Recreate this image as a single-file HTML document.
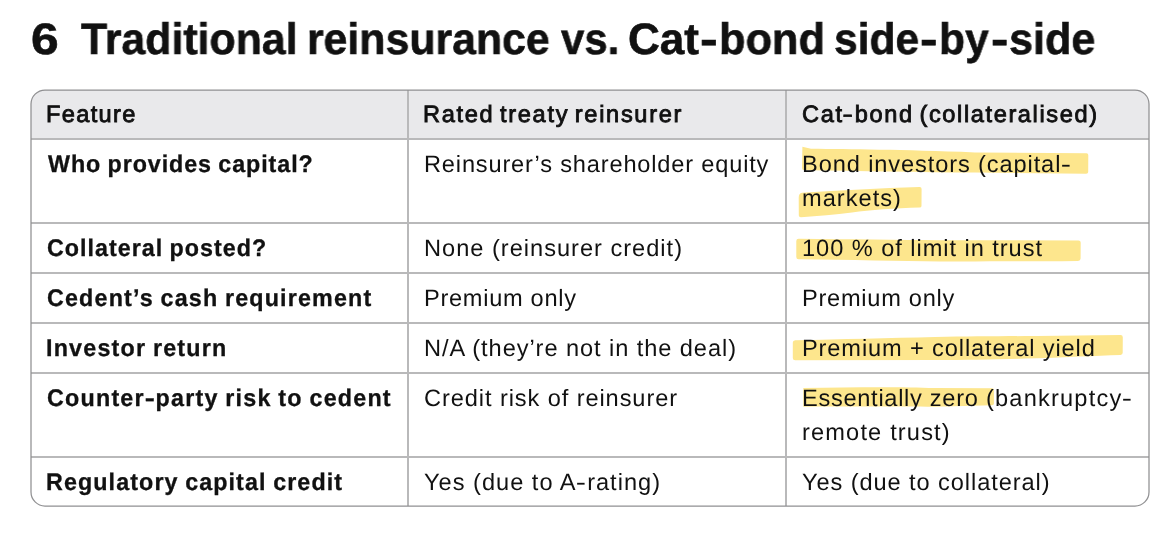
<!DOCTYPE html>
<html>
<head>
<meta charset="utf-8">
<title>Traditional reinsurance vs. Cat-bond</title>
<style>
html,body{margin:0;padding:0;background:#fff;}
body{width:1173px;height:542px;position:relative;overflow:hidden;font-family:"Liberation Sans",sans-serif;color:#111;}
.x{will-change:transform;position:absolute;white-space:pre;line-height:40px;transform-origin:0 50%;}
.hy{display:inline-block;transform:scaleX(1.3);margin:0 0.9px;}
.tt{font-size:44px;font-weight:bold;text-rendering:geometricPrecision;-webkit-text-stroke:0.6px #111;}
.b{font-size:23.3px;font-weight:bold;text-rendering:geometricPrecision;-webkit-text-stroke:0.3px #111;word-spacing:-1.0px;}
.h{font-size:23.6px;font-weight:normal;text-rendering:geometricPrecision;-webkit-text-stroke:0.85px #111;word-spacing:-2.5px;}
.n{font-size:23.6px;font-weight:normal;text-rendering:geometricPrecision;}
svg.hi{position:absolute;left:0;top:0;}
</style>
</head>
<body>
<svg class="hi" width="1173" height="542" viewBox="0 0 1173 542">
<path d="M31 139 L31 104 A14 14 0 0 1 45 90 L1135 90 A14 14 0 0 1 1149 104 L1149 139 Z" fill="#e9e9eb"/>
<g fill="#b9b9ba">
<rect x="31" y="138" width="1118" height="2"/>
<rect x="31" y="222" width="1118" height="2"/>
<rect x="31" y="272" width="1118" height="2"/>
<rect x="31" y="322" width="1118" height="2"/>
<rect x="31" y="372" width="1118" height="2"/>
<rect x="31" y="456" width="1118" height="2"/>
<rect x="407" y="90" width="2" height="416"/>
<rect x="785" y="90" width="2" height="416"/>
</g>
<rect x="31" y="90" width="1118" height="416" rx="14" ry="14" fill="none" stroke="#909092" stroke-width="1.25"/>
<defs><filter id="sf" x="-5%" y="-20%" width="110%" height="140%"><feGaussianBlur stdDeviation="0.55"/></filter></defs>
<g fill="#fde68d" filter="url(#sf)">
<path d="M802.4 146.8 L811 148.8 C850 149.2 900 149.6 975 152.4 L1086.5 153.2 Q1088.3 153.3 1088.3 155.3 L1088.2 172 Q1088.1 173.8 1086 173.7 L975 172.6 C920 172 860 171 803.5 169.9 Q802 169.9 802 168 Z"/>
<path d="M802 192.8 C840 190.6 880 188.2 919.5 187.1 Q921.6 187 921.6 189 L921.5 206 Q921.5 207.5 919.5 207.6 C895 208.3 870 210 852 212.5 C835 214.5 818 216.2 801 217.3 Q798.9 217.4 798.8 215.5 L798.7 198 Q798.7 193 802 192.8 Z"/>
<path d="M798.6 238.7 C850 239.2 900 239.9 940 240.2 L1078.5 240.4 Q1080.7 240.4 1080.7 242.6 L1080.6 258.6 Q1080.6 260.8 1078 260.9 C1030 261.3 980 261.5 940 261.4 C900 261 850 260 798.6 259.3 Q796.3 259.2 796.3 257 L796.3 241 Q796.3 238.7 798.6 238.7 Z"/>
<path d="M795.2 340.3 C840 339.3 890 338 935 337 C970 336.4 1000 336.2 1037 336 L1120.5 335.1 Q1122.8 335.1 1122.8 337.2 L1122.7 352.8 Q1122.7 354.8 1120.5 354.9 C1095 355.8 1065 357.2 1037 358.2 C1000 359.4 970 359.9 935 360 L795.2 360.2 Q792.8 360.2 792.8 358 L792.8 342.6 Q792.8 340.4 795.2 340.3 Z"/>
<path d="M803.3 387.9 C850 387.2 900 386.6 935 388 L992 388.3 Q993.9 388.3 993.9 390 L993.9 403.5 Q993.9 405.1 992 405.2 L935 406.8 C900 406.6 850 406.5 803.3 406.8 Z"/>
</g>
</svg>
<span class="x tt" id="t1" style="left:30.79px;top:19.85px;transform:scaleX(1.1318);">6</span>
<span class="x tt" id="t2" style="left:80.96px;top:19.85px;transform:scaleX(0.9731);">Traditional</span>
<span class="x tt" id="t3" style="left:307.37px;top:19.85px;transform:scaleX(0.9729);">reinsurance</span>
<span class="x tt" id="t4" style="left:560.74px;top:19.85px;transform:scaleX(0.9515);">vs.</span>
<span class="x tt" id="t5" style="left:627.50px;top:19.85px;transform:scaleX(1.0007);">Cat</span>
<span class="x tt" id="t6" style="left:700.09px;top:19.85px;transform:scaleX(1.2085);">-</span>
<span class="x tt" id="t7" style="left:718.64px;top:19.85px;transform:scaleX(0.9854);">bond</span>
<span class="x tt" id="t8" style="left:834.09px;top:19.85px;transform:scaleX(0.9673);">side</span>
<span class="x tt" id="t9" style="left:920.21px;top:19.85px;transform:scaleX(1.1915);">-</span>
<span class="x tt" id="t10" style="left:939.28px;top:19.85px;transform:scaleX(0.9673);">by</span>
<span class="x tt" id="t11" style="left:990.73px;top:19.85px;transform:scaleX(1.1830);">-</span>
<span class="x tt" id="t12" style="left:1009.07px;top:19.85px;transform:scaleX(0.9813);">side</span>
<span class="x h" id="h1" style="left:46.20px;top:94.52px;letter-spacing:1.325px;">Feature</span>
<span class="x h" id="h2" style="left:423.30px;top:94.52px;letter-spacing:1.674px;">Rated treaty reinsurer</span>
<span class="x h" id="h3" style="left:802.05px;top:94.52px;letter-spacing:1.613px;">Cat<span class="hy">-</span>bond (collateralised)</span>
<span class="x b" id="r1c1" style="left:47.80px;top:144.13px;letter-spacing:0.912px;transform:scaleY(1.03);transform-origin:0 28.1px;">Who provides capital?</span>
<span class="x n" id="r1c2" style="left:423.50px;top:145.02px;letter-spacing:0.826px;">Reinsurer’s shareholder equity</span>
<span class="x n" id="r1c3a" style="left:801.50px;top:145.02px;letter-spacing:0.895px;">Bond investors (capital<span class="hy">-</span></span>
<span class="x n" id="r1c3b" style="left:802.00px;top:179.02px;letter-spacing:1.021px;">markets)</span>
<span class="x b" id="r2c1" style="left:47.05px;top:228.13px;letter-spacing:0.997px;transform:scaleY(1.03);transform-origin:0 28.1px;">Collateral posted?</span>
<span class="x n" id="r2c2" style="left:423.50px;top:229.02px;letter-spacing:1.000px;">None (reinsurer credit)</span>
<span class="x n" id="r2c3" style="left:801.85px;top:229.02px;letter-spacing:0.955px;">100 % of limit in trust</span>
<span class="x b" id="r3c1" style="left:47.05px;top:278.13px;letter-spacing:1.169px;transform:scaleY(1.03);transform-origin:0 28.1px;">Cedent’s cash requirement</span>
<span class="x n" id="r3c2" style="left:423.80px;top:279.02px;letter-spacing:0.709px;">Premium only</span>
<span class="x n" id="r3c3" style="left:801.50px;top:279.02px;letter-spacing:0.736px;">Premium only</span>
<span class="x b" id="r4c1" style="left:46.30px;top:328.13px;letter-spacing:1.200px;transform:scaleY(1.03);transform-origin:0 28.1px;">Investor return</span>
<span class="x n" id="r4c2" style="left:423.50px;top:329.02px;letter-spacing:0.932px;">N/A (they’re not in the deal)</span>
<span class="x n" id="r4c3" style="left:801.50px;top:329.02px;letter-spacing:0.882px;">Premium + collateral yield</span>
<span class="x b" id="r5c1" style="left:47.05px;top:378.13px;letter-spacing:1.217px;transform:scaleY(1.03);transform-origin:0 28.1px;">Counter<span class="hy">-</span>party risk to cedent</span>
<span class="x n" id="r5c2" style="left:424.25px;top:379.02px;letter-spacing:0.913px;">Credit risk of reinsurer</span>
<span class="x n" id="r5c3a" style="left:801.50px;top:379.02px;letter-spacing:0.710px;">Essentially zero</span>
<span class="x n" id="r5c3a2" style="left:985.80px;top:379.02px;letter-spacing:1.195px;">(bankruptcy<span class="hy">-</span></span>
<span class="x n" id="r5c3b" style="left:802.00px;top:413.02px;letter-spacing:1.163px;">remote trust)</span>
<span class="x b" id="r6c1" style="left:46.30px;top:462.13px;letter-spacing:1.090px;transform:scaleY(1.03);transform-origin:0 28.1px;">Regulatory capital credit</span>
<span class="x n" id="r6c2" style="left:424.00px;top:463.02px;letter-spacing:1.000px;">Yes (due to A<span class="hy">-</span>rating)</span>
<span class="x n" id="r6c3" style="left:802.00px;top:463.02px;letter-spacing:0.918px;">Yes (due to collateral)</span>
</body>
</html>
